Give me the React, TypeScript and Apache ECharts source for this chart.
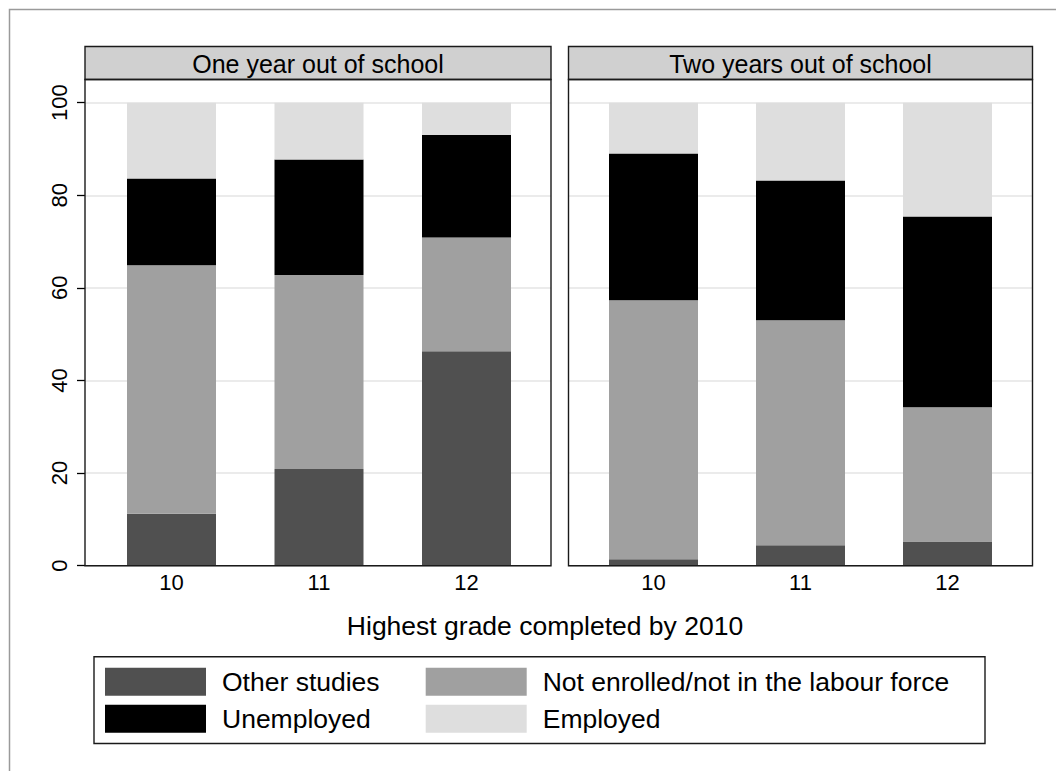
import React, { useEffect, useRef } from "react";
import * as echarts from "echarts";

// Grades on the x axis and panel titles
const grades = ["10", "11", "12"];
const panelTitles = ["One year out of school", "Two years out of school"];
const xTitle = "Highest grade completed by 2010";
const yTicks = [0, 20, 40, 60, 80, 100];

const statusNames = [
  "Other studies",
  "Not enrolled/not in the labour force",
  "Unemployed",
  "Employed",
];
const statusColors = ["#505050", "#a0a0a0", "#000000", "#dedede"];

// Share of school leavers (%) by activity status, grades 10, 11, 12
const oneYearOther = [11.2, 20.9, 46.3];
const oneYearNotEnrolled = [53.7, 41.9, 24.6];
const oneYearUnemployed = [18.7, 24.9, 22.1];
const oneYearEmployed = [16.4, 12.3, 7.0];

const twoYearOther = [1.4, 4.4, 5.2];
const twoYearNotEnrolled = [55.9, 48.6, 29.0];
const twoYearUnemployed = [31.7, 30.2, 41.2];
const twoYearEmployed = [11.0, 16.8, 24.6];

const FONT = "'Liberation Sans', Arial, Helvetica, sans-serif";

// Panel geometry: frame (x0..x1) and inner band area for the bars (b0..b1)
const HEADER_TOP = 46.5;
const PLOT_TOP = 79.5;
const PLOT_BOTTOM = 565.7;
const Y_MAX = 105;
const panels = [
  { x0: 85, x1: 551, b0: 97.75, b1: 540.25 },
  { x0: 568.5, x1: 1032.5, b0: 580, b1: 1021 },
];

export default function App() {
  const ref = useRef<HTMLDivElement>(null);

  useEffect(() => {
    if (!ref.current) return;
    const chart = echarts.init(ref.current, null, { renderer: "svg" });

    const panelData = [
      [oneYearOther, oneYearNotEnrolled, oneYearUnemployed, oneYearEmployed],
      [twoYearOther, twoYearNotEnrolled, twoYearUnemployed, twoYearEmployed],
    ];

    const grids: any[] = [];
    const xAxes: any[] = [];
    const yAxes: any[] = [];
    const plotH = PLOT_BOTTOM - PLOT_TOP;

    panels.forEach((p, i) => {
      // full-width grid: carries the y scale, grid lines and tick labels
      const frameIdx = grids.length;
      grids.push({ left: p.x0, top: PLOT_TOP, width: p.x1 - p.x0, height: plotH });
      xAxes.push({
        type: "value",
        gridIndex: frameIdx,
        show: false,
        min: 0,
        max: 1,
      });
      yAxes.push({
        type: "value",
        gridIndex: frameIdx,
        min: 0,
        max: Y_MAX,
        interval: 20,
        axisLine: { show: false },
        axisTick: {
          show: i === 0,
          length: 8,
          customValues: yTicks,
          lineStyle: { color: "#000", width: 1.3 },
        },
        axisLabel: {
          show: i === 0,
          customValues: yTicks,
          rotate: 90,
          margin: 15,
          fontFamily: FONT,
          fontSize: 22,
          color: "#000",
        },
        splitLine: { show: true, lineStyle: { color: "#e4e4e4", width: 1.6 } },
      });

      // inner grid: category bands for the bars, same vertical scale
      const barIdx = grids.length;
      grids.push({ left: p.b0, top: PLOT_TOP, width: p.b1 - p.b0, height: plotH });
      xAxes.push({
        type: "category",
        gridIndex: barIdx,
        data: grades,
        axisLine: { show: false },
        axisTick: { show: false },
        splitLine: { show: false },
        axisLabel: {
          fontFamily: FONT,
          fontSize: 22,
          color: "#000",
          margin: 6,
        },
      });
      yAxes.push({
        type: "value",
        gridIndex: barIdx,
        min: 0,
        max: Y_MAX,
        show: false,
        splitLine: { show: false },
      });
    });

    const series: any[] = [];
    panelData.forEach((groups, pi) => {
      groups.forEach((vals, si) => {
        series.push({
          type: "bar",
          name: statusNames[si],
          xAxisIndex: pi * 2 + 1,
          yAxisIndex: pi * 2 + 1,
          stack: "panel" + pi,
          barWidth: 89,
          itemStyle: { color: statusColors[si] },
          data: vals,
        });
      });
    });

    const graphic: any[] = [
      // outer frame
      {
        type: "rect",
        shape: { x: 9.5, y: 9.5, width: 1100, height: 800 },
        style: { fill: "none", stroke: "#9a9a9a", lineWidth: 1.5 },
        z: 100,
      },
    ];
    panels.forEach((p, i) => {
      graphic.push({
        type: "rect",
        shape: { x: p.x0, y: HEADER_TOP, width: p.x1 - p.x0, height: PLOT_TOP - HEADER_TOP },
        style: { fill: "#d0d0d0", stroke: "#1a1a1a", lineWidth: 1.4 },
        z: 100,
      });
      graphic.push({
        type: "text",
        x: (p.x0 + p.x1) / 2,
        y: (HEADER_TOP + PLOT_TOP) / 2 + 1,
        style: {
          text: panelTitles[i],
          fontFamily: FONT,
          fontSize: 25,
          fill: "#000",
          textAlign: "center",
          textVerticalAlign: "middle",
        },
        z: 101,
      });
      graphic.push({
        type: "rect",
        shape: { x: p.x0, y: PLOT_TOP, width: p.x1 - p.x0, height: plotH },
        style: { fill: "none", stroke: "#1a1a1a", lineWidth: 1.4 },
        z: 100,
      });
    });
    graphic.push({
      type: "text",
      x: 545,
      y: 626,
      style: {
        text: xTitle,
        fontFamily: FONT,
        fontSize: 26.5,
        fill: "#000",
        textAlign: "center",
        textVerticalAlign: "middle",
      },
      z: 101,
    });
    // legend frame
    graphic.push({
      type: "rect",
      shape: { x: 94, y: 656.7, width: 891, height: 86.8 },
      style: { fill: "none", stroke: "#1a1a1a", lineWidth: 1.4 },
      z: 100,
    });

    const legendBase = {
      orient: "vertical",
      top: 667.7,
      padding: 0,
      itemWidth: 101,
      itemHeight: 28,
      itemGap: 9,
      icon: "rect",
      selectedMode: false,
      textStyle: {
        fontFamily: FONT,
        fontSize: 26.5,
        color: "#000",
        padding: [0, 0, 0, 11],
      },
    };

    chart.setOption({
      animation: false,
      backgroundColor: "#fff",
      grid: grids,
      xAxis: xAxes,
      yAxis: yAxes,
      legend: [
        { ...legendBase, left: 105, data: [statusNames[0], statusNames[2]] },
        { ...legendBase, left: 425.7, data: [statusNames[1], statusNames[3]] },
      ],
      graphic,
      series,
    });

    return () => chart.dispose();
  }, []);

  return (
    <div
      ref={ref}
      style={{ position: "absolute", left: 0, top: 0, width: 1056, height: 771 }}
    />
  );
}
